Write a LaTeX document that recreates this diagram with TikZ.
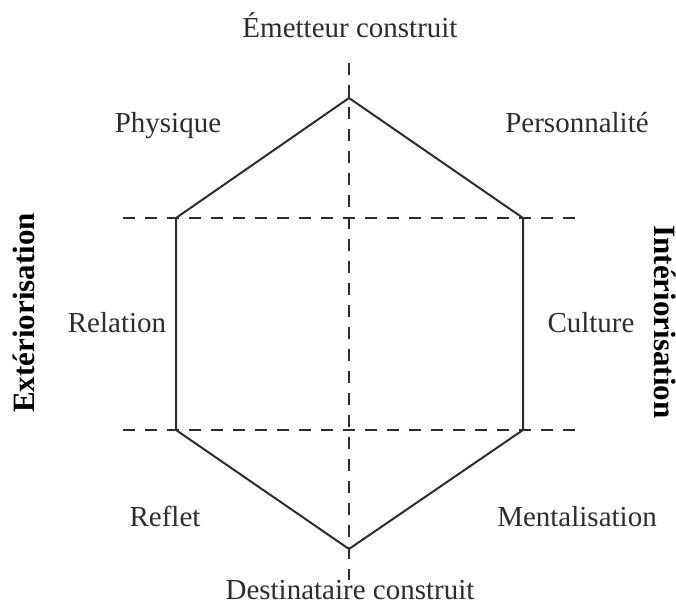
\documentclass[tikz,border=0pt]{standalone}
\usepackage{fontspec}
\setmainfont{Liberation Serif}
\usetikzlibrary{positioning}
\definecolor{inkgray}{RGB}{45,45,45}

\begin{document}
\begin{tikzpicture}[
  x=0.5pt, y=-0.5pt,
  lbl/.style={anchor=base, font=\fontsize{14.5}{16}\selectfont, text=inkgray, inner sep=0pt},
  axlbl/.style={font=\fontsize{15.5}{17}\selectfont\bfseries, text=black, inner sep=0pt},
  hexline/.style={draw=inkgray, line width=1pt, line join=miter},
  axline/.style={draw=inkgray, line width=0.8pt, dash pattern=on 6pt off 5pt}
]
\useasboundingbox (0,0) rectangle (676,605);
% hexagon corners
\coordinate (top) at (349,98);
\coordinate (tl) at (176,218);
\coordinate (tr) at (523,218);
\coordinate (bl) at (176,430);
\coordinate (br) at (523,430);
\coordinate (bot) at (349,549);
% axis ends
\coordinate (vN) at (349,63);
\coordinate (vS) at (349,580);
\coordinate (hW1) at (123,218);
\coordinate (hE1) at (576,218);
\coordinate (hW2) at (123,430);
\coordinate (hE2) at (576,430);
\draw[axline] (vN) -- (vS);
\draw[axline] (hW1) -- (hE1);
\draw[axline] (hW2) -- (hE2);
\draw[hexline] (top) -- (tr) -- (br) -- (bot) -- (bl) -- (tl) -- cycle;
% labels
\node[lbl] (emet) at (350,38) {Émetteur construit};
\node[lbl] (phys) at (168,132) {Physique};
\node[lbl] (pers) at (577,132) {Personnalité};
\node[lbl] (rel) at (117,332) {Relation};
\node[lbl] (cult) at (591,332) {Culture};
\node[lbl] (refl) at (165,526) {Reflet};
\node[lbl] (ment) at (577,526) {Mentalisation};
\node[lbl] (dest) at (350,599) {Destinataire construit};
\node[axlbl, rotate=90] (ext) at (24,313) {Extériorisation};
\node[axlbl, rotate=-90] (int) at (665,322) {Intériorisation};
\end{tikzpicture}
\end{document}
